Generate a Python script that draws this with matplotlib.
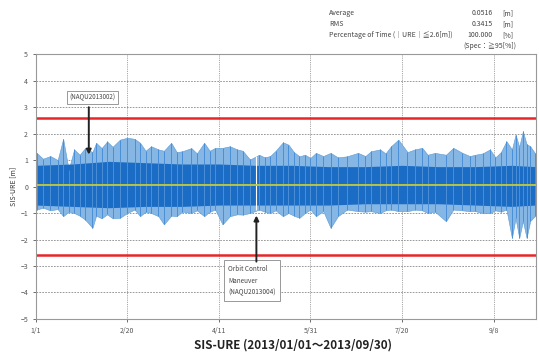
import matplotlib.pyplot as plt

plt.rcParams['font.family'] = ['Noto Sans CJK JP', 'DejaVu Sans']

# upper / lower envelope of SIS-URE (day of year 2013, metres)
days = [0.5, 4, 8, 12, 15, 18, 21, 24, 27, 31, 33, 36, 39, 42, 46, 50, 54, 57, 60, 63,
        67, 70, 74, 77, 80, 85, 88, 92, 95, 98, 102, 106, 110, 113, 117, 122, 125, 128,
        131, 135, 138, 141, 144, 147, 150, 153, 157, 161, 165, 170, 176, 180, 183, 188,
        191, 194, 198, 203, 207, 211, 214, 218, 224, 228, 233, 237, 240, 244, 248, 251,
        254, 257, 260, 262, 264, 266, 268, 270, 272.5]
upper = [1.27, 1.05, 1.15, 1.0, 1.8, 0.64, 1.4, 1.2, 1.45, 1.3, 1.65, 1.45, 1.7, 1.5, 1.77,
         1.84, 1.8, 1.65, 1.35, 1.52, 1.4, 1.35, 1.65, 1.3, 1.33, 1.45, 1.25, 1.65, 1.35,
         1.46, 1.46, 1.52, 1.4, 1.35, 1.02, 1.2, 1.1, 1.15, 1.35, 1.67, 1.58, 1.3, 1.14,
         1.2, 1.08, 1.27, 1.15, 1.27, 1.1, 1.14, 1.27, 1.15, 1.33, 1.4, 1.25, 1.52, 1.77,
         1.3, 1.4, 1.46, 1.2, 1.27, 1.2, 1.46, 1.27, 1.15, 1.2, 1.25, 1.4, 1.1, 1.3, 1.71,
         1.4, 1.96, 1.5, 2.09, 1.6, 1.52, 1.27]
lower = [-0.87, -0.8, -0.9, -0.85, -1.12, -0.95, -1.0, -1.1, -1.25, -1.56, -1.1, -1.2, -1.05,
         -1.2, -1.18, -1.0, -0.87, -1.12, -0.95, -1.0, -1.12, -1.43, -1.1, -1.12, -0.95, -1.0,
         -0.9, -1.12, -0.95, -0.87, -1.43, -1.12, -1.05, -1.06, -1.0, -0.87, -0.95, -1.0, -0.9,
         -1.12, -1.0, -1.1, -1.18, -1.0, -0.87, -1.12, -0.93, -1.56, -1.12, -0.87, -0.93,
         -0.95, -0.93, -1.0, -0.9, -0.87, -0.93, -0.93, -0.87, -0.9, -1.0, -0.95, -1.31,
         -0.87, -0.9, -0.93, -0.93, -1.0, -1.0, -0.9, -0.95, -0.87, -1.94, -1.2, -1.94, -1.3,
         -1.94, -1.3, -1.12]

# dense part of the band
core_days = [0, 20, 40, 60, 80, 100, 120, 140, 160, 180, 200, 220, 240, 260, 273]
core_hi = [0.8, 0.85, 0.95, 0.9, 0.85, 0.85, 0.8, 0.8, 0.75, 0.75, 0.8, 0.75, 0.75, 0.8, 0.75]
core_lo = [-0.7, -0.75, -0.8, -0.75, -0.75, -0.7, -0.7, -0.7, -0.7, -0.65, -0.65, -0.65,
           -0.7, -0.75, -0.7]

average = 0.0516
limit = 2.6
maneuver_day = 120.5

tick_days = [0, 50, 100, 150, 200, 250]
tick_labels = ['1/1', '2/20', '4/11', '5/31', '7/20', '9/8']

fig = plt.figure(figsize=(5.39, 3.58), dpi=100)
ax = fig.add_axes([0.0662, 0.109, 0.9277, 0.74])

ax.fill_between(days, lower, upper, color='#85b6e4', lw=0.4, edgecolor='#5b9bd5')
ax.vlines(days, lower, upper, color='#4a8fd6', lw=0.7)
ax.fill_between(core_days, core_lo, core_hi, color='#1a6cc4', lw=0)
ax.vlines(maneuver_day, -0.87, 1.15, color='white', lw=0.8)

ax.axhline(average, color='#c2cc3a', lw=1.3)
ax.axhline(limit, color='#e8262a', lw=1.8)
ax.axhline(-limit, color='#e8262a', lw=1.8)

ax.set_xlim(0, 273)
ax.set_ylim(-5, 5)
ax.set_yticks(range(-5, 6))
ax.set_xticks(tick_days)
ax.set_xticklabels(tick_labels)
ax.tick_params(labelsize=5, colors='#555555', length=2, width=0.6)
for y in range(-4, 5):
    ax.axhline(y, color='#888888', lw=0.6, ls=(0, (2, 1.5)), zorder=0)
for d in tick_days[1:]:
    ax.axvline(d, color='#888888', lw=0.6, ls=(0, (1, 1.2)), zorder=0)
for s in ax.spines.values():
    s.set_color('#999999')
    s.set_linewidth(0.8)

ax.set_ylabel('SIS-URE [m]', fontsize=5, color='#333333', labelpad=2)

ax.text(31, 3.36, '(NAQU2013002)', fontsize=4.5, color='#444444', ha='center', va='center',
        bbox=dict(boxstyle='square,pad=0.4', fc='white', ec='#888888', lw=0.6))
ax.annotate('', xy=(29, 1.1), xytext=(29, 3.1),
            arrowprops=dict(arrowstyle='-|>', color='#222222', lw=1.4, mutation_scale=7))
ax.text(105, -3.55, 'Orbit Control\nManeuver\n(NAQU2013004)', fontsize=4.6, color='#444444',
        ha='left', va='center', linespacing=1.6,
        bbox=dict(boxstyle='square,pad=0.7', fc='white', ec='#888888', lw=0.6))
ax.annotate('', xy=(maneuver_day, -0.99), xytext=(maneuver_day, -2.94),
            arrowprops=dict(arrowstyle='-|>', color='#222222', lw=1.4, mutation_scale=7))

fig.text(0.544, 0.036, 'SIS-URE (2013/01/01～2013/09/30)', fontsize=8.4, fontweight='bold',
         ha='center', va='center', color='#222222')

stats = [('Average', '0.0516', '[m]'),
         ('RMS', '0.3415', '[m]'),
         ('Percentage of Time (｜URE｜≦2.6[m])', '100.000', '[%]')]
for i, (name, val, unit) in enumerate(stats):
    yy = 1 - (13 + 11 * i) / 358
    fig.text(329 / 539, yy, name, fontsize=5, color='#444444', va='center')
    fig.text(493 / 539, yy, val, fontsize=5, color='#444444', va='center', ha='right')
    fig.text(508 / 539, yy, unit, fontsize=5, color='#444444', va='center', ha='center')
fig.text(516 / 539, 1 - 46 / 358, '(Spec：≧95[%])', fontsize=5, color='#444444',
         va='center', ha='right')

fig.savefig('out.png', dpi=100)
